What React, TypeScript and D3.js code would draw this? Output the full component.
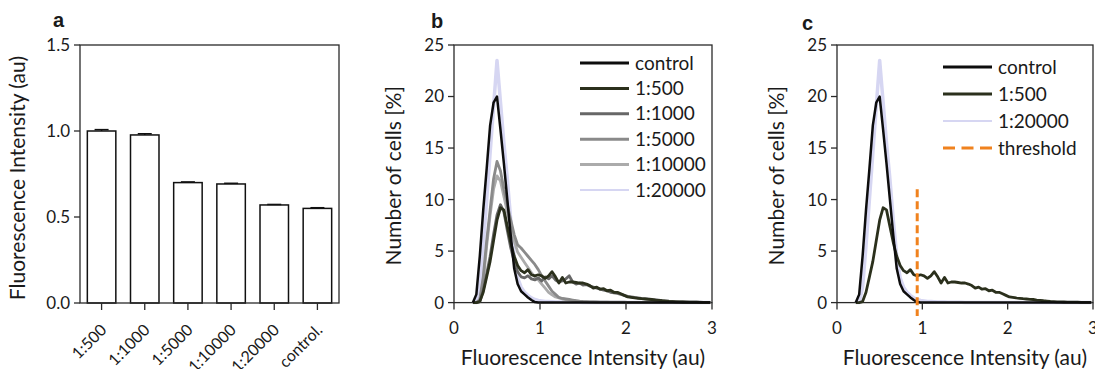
import React from "react";
import * as d3 from "d3";

const FONT = "Lato, 'Open Sans', sans-serif";
const TITLE_FONT = "'Liberation Sans', Arial, sans-serif";

// ---------- Panel a data ----------
const barCategories = ["1:500", "1:1000", "1:5000", "1:10000", "1:20000", "control."];
const barValues = [1.0, 0.977, 0.7, 0.692, 0.57, 0.55];
const barErrors = [0.008, 0.007, 0.004, 0.004, 0.003, 0.004];
const barYTicks = [0, 0.5, 1.0, 1.5];
const barYTickLabels = ["0.0", "0.5", "1.0", "1.5"];

// ---------- Histogram data (panels b, c) ----------
const binsX = [
  0.22, 0.26, 0.30, 0.34, 0.38, 0.42, 0.46, 0.50, 0.54, 0.58,
  0.62, 0.66, 0.70, 0.74, 0.78, 0.82, 0.86, 0.90, 0.94, 0.98,
  1.02, 1.06, 1.10, 1.14, 1.18, 1.22, 1.26, 1.30, 1.34, 1.38,
  1.42, 1.46, 1.50, 1.54, 1.58, 1.62, 1.66, 1.70, 1.74, 1.78,
  1.82, 1.86, 1.90, 1.94, 1.98, 2.02, 2.06, 2.10, 2.14, 2.18,
  2.22, 2.26, 2.30, 2.34, 2.38, 2.42, 2.46, 2.50, 2.54, 2.58,
  2.62, 2.66, 2.70, 2.74, 2.78, 2.82, 2.86, 2.90, 2.94, 2.98,
];
const histControl = [
  0, 0.8, 4.5, 9, 13, 17.2, 19.4, 20, 16.8, 13.5,
  10, 6.5, 3.3, 1.8, 1.1, 0.8, 0.5, 0.25, 0.05, 0,
  0, 0, 0, 0, 0, 0, 0, 0, 0, 0,
  0, 0, 0, 0, 0, 0, 0, 0, 0, 0,
  0, 0, 0, 0, 0, 0, 0, 0, 0, 0,
  0, 0, 0, 0, 0, 0, 0, 0, 0, 0,
  0, 0, 0, 0, 0, 0, 0, 0, 0, 0,
];
const hist500 = [
  0, 0, 0.1, 1, 2.5, 4.0, 6.0, 8.0, 9.2, 9.0,
  7.4, 5.8, 4.5, 3.6, 3.1, 2.9, 3.2, 2.7, 2.6, 2.7,
  2.6, 2.35, 2.6, 3.0, 2.5, 1.9, 2.45, 1.9, 2.0, 2.0,
  1.95, 1.9, 1.9, 1.8, 1.65, 1.4, 1.5, 1.3, 1.35, 1.15,
  1.2, 1.0, 1.0, 0.85, 0.7, 0.55, 0.5, 0.45, 0.42, 0.38,
  0.35, 0.32, 0.3, 0.25, 0.22, 0.18, 0.15, 0.12, 0.1, 0.08,
  0.07, 0.06, 0.05, 0.05, 0.04, 0.04, 0.03, 0.03, 0.03, 0.03,
];
const hist1000 = [
  0, 0, 0.1, 1.2, 2.8, 4.5, 6.6, 8.5, 9.5, 8.8,
  7.0, 5.3, 4.0, 3.0, 2.5, 2.4, 2.6, 2.3, 2.2, 2.4,
  2.1, 2.5, 2.3, 2.6, 2.2, 2.0, 2.1, 2.3, 2.6, 2.0,
  1.8, 1.9, 1.7, 1.75, 1.6, 1.5, 1.4, 1.3, 1.2, 1.15,
  1.0, 0.95, 0.9, 0.8, 0.7, 0.6, 0.55, 0.5, 0.45, 0.4,
  0.38, 0.35, 0.3, 0.28, 0.25, 0.2, 0.17, 0.14, 0.12, 0.1,
  0.08, 0.07, 0.06, 0.05, 0.05, 0.04, 0.04, 0.03, 0.03, 0.03,
];
const hist5000 = [
  0, 0, 0.3, 2.5, 6, 9, 12, 13.7, 12.8, 11,
  9.5, 8, 6.6, 5.6, 5.3, 4.9, 4.5, 4.1, 3.7, 3.2,
  2.6, 2.1, 1.6, 1.1, 0.8, 0.5, 0.4, 0.35, 0.3, 0.25,
  0.2, 0.15, 0.12, 0.1, 0.08, 0.07, 0.06, 0.05, 0.05, 0.05,
  0.04, 0.04, 0.04, 0.04, 0.04, 0.03, 0.03, 0.03, 0.03, 0.03,
  0.02, 0.02, 0.02, 0.02, 0.02, 0.02, 0.02, 0.02, 0.02, 0.02,
  0.02, 0.02, 0.02, 0.02, 0.02, 0.02, 0.02, 0.02, 0.02, 0.02,
];
const hist10000 = [
  0, 0, 0.2, 2, 5.5, 8.5, 11, 12.3, 11.8, 10.3,
  8.8, 7.3, 6.0, 4.9, 4.4, 3.9, 3.4, 2.9, 2.5, 2.2,
  1.8, 1.4, 1.0, 0.75, 0.55, 0.45, 0.35, 0.3, 0.25, 0.2,
  0.15, 0.12, 0.1, 0.08, 0.07, 0.06, 0.05, 0.05, 0.04, 0.04,
  0.03, 0.03, 0.03, 0.03, 0.03, 0.03, 0.03, 0.03, 0.03, 0.03,
  0.02, 0.02, 0.02, 0.02, 0.02, 0.02, 0.02, 0.02, 0.02, 0.02,
  0.02, 0.02, 0.02, 0.02, 0.02, 0.02, 0.02, 0.02, 0.02, 0.02,
];
const hist20000 = [
  0, 0, 1.5, 5.5, 10, 14.5, 19, 23.5, 19.5, 15.5,
  12, 8, 4.5, 2.4, 1.5, 1.0, 0.7, 0.45, 0.3, 0.2,
  0.15, 0.1, 0.1, 0.08, 0.06, 0.05, 0.05, 0.04, 0.04, 0.03,
  0.03, 0.03, 0.02, 0.02, 0.02, 0.02, 0.02, 0.02, 0.02, 0.02,
  0, 0, 0, 0, 0, 0, 0, 0, 0, 0,
  0, 0, 0, 0, 0, 0, 0, 0, 0, 0,
  0, 0, 0, 0, 0, 0, 0, 0, 0, 0,
];
const histXTicks = [0, 1, 2, 3];
const histYTicks = [0, 5, 10, 15, 20, 25];
const seriesNamesB = ["control", "1:500", "1:1000", "1:5000", "1:10000", "1:20000"];
const seriesNamesC = ["control", "1:500", "1:20000"];
const thresholdValue = 0.94;
const thresholdSpan = [-1.3, 11];

const seriesData: Record<string, number[]> = {
  control: histControl,
  "1:500": hist500,
  "1:1000": hist1000,
  "1:5000": hist5000,
  "1:10000": hist10000,
  "1:20000": hist20000,
};

// ---------- styles ----------
const seriesColor: Record<string, string> = {
  control: "#0d0d0d",
  "1:500": "#2b301c",
  "1:1000": "#676767",
  "1:5000": "#8a8a8a",
  "1:10000": "#ababab",
  "1:20000": "#d6d6f2",
};
const seriesWidth: Record<string, number> = {
  control: 2.5,
  "1:500": 2.8,
  "1:1000": 2.8,
  "1:5000": 2.8,
  "1:10000": 2.8,
  "1:20000": 3.5,
};
const legendWidth: Record<string, number> = {
  control: 3,
  "1:500": 3,
  "1:1000": 3,
  "1:5000": 3,
  "1:10000": 3,
  "1:20000": 2,
};
const AXIS = "#2a2a2a";
const TEXT = "#1a1a1a";
const ORANGE = "#f0821e";

function BarPanel() {
  const left = 80, right = 339, top = 45, bottom = 303;
  const x = d3.scaleBand<string>().domain(barCategories).range([left, right]).paddingInner(0.34).paddingOuter(0.17);
  const y = d3.scaleLinear().domain([0, 1.5]).range([bottom, top]);
  return (
    <g>
      <text x={53} y={27} fontFamily={TITLE_FONT} fontWeight="bold" fontSize={20} fill={TEXT}>a</text>
      {barCategories.map((c, i) => {
        const bx = x(c)!;
        const bw = x.bandwidth();
        const cx = bx + bw / 2;
        return (
          <g key={c}>
            <rect x={bx} y={y(barValues[i])} width={bw} height={bottom - y(barValues[i])} fill="#fff" stroke="#111" strokeWidth={1.5} />
            <line x1={cx} x2={cx} y1={y(barValues[i])} y2={y(barValues[i] + barErrors[i])} stroke="#111" strokeWidth={1.5} />
            <line x1={cx - 7} x2={cx + 7} y1={y(barValues[i] + barErrors[i])} y2={y(barValues[i] + barErrors[i])} stroke="#111" strokeWidth={1.5} />
          </g>
        );
      })}
      <rect x={left} y={top} width={right - left} height={bottom - top} fill="none" stroke={AXIS} strokeWidth={1.3} />
      {barYTicks.map((t, i) => (
        <g key={t}>
          <line x1={left - 6} x2={left} y1={y(t)} y2={y(t)} stroke={AXIS} strokeWidth={1.3} />
          <text x={left - 10} y={y(t)} dy="0.35em" textAnchor="end" fontFamily={FONT} fontSize={17} fill={TEXT}>{barYTickLabels[i]}</text>
        </g>
      ))}
      {barCategories.map((c) => {
        const cx = x(c)! + x.bandwidth() / 2;
        return (
          <g key={"t" + c}>
            <line x1={cx} x2={cx} y1={bottom} y2={bottom + 7} stroke={AXIS} strokeWidth={1.3} />
            <text transform={`translate(${cx + 6},${bottom + 28}) rotate(-45)`} textAnchor="end" fontFamily={FONT} fontSize={16} fill={TEXT}>{c}</text>
          </g>
        );
      })}
      <text transform={`translate(25,${(top + bottom) / 2 + 4}) rotate(-90)`} textAnchor="middle" fontFamily={FONT} fontSize={21} fill={TEXT}>Fluorescence Intensity (au)</text>
    </g>
  );
}

type HistProps = {
  left: number;
  right: number;
  title: string;
  titleX: number;
  titleY: number;
  names: string[];
  legendNames: string[];
  legendX: number;
  legendY: number;
  legendStep: number;
  threshold?: boolean;
};

function HistPanel(p: HistProps) {
  const top = 45, bottom = 302.6;
  const x = d3.scaleLinear().domain([0, 3]).range([p.left, p.right]);
  const y = d3.scaleLinear().domain([0, 25]).range([bottom, top]);
  const line = d3.line<number>().x((_, i) => x(binsX[i])).y((d) => y(d)).curve(d3.curveLinear);
  const drawOrder = [...p.names].reverse();
  const legendItems = p.threshold ? [...p.legendNames, "threshold"] : p.legendNames;
  return (
    <g>
      <text x={p.titleX} y={p.titleY} fontFamily={TITLE_FONT} fontWeight="bold" fontSize={20} fill={TEXT}>{p.title}</text>
      <rect x={p.left} y={top} width={p.right - p.left} height={bottom - top} fill="none" stroke={AXIS} strokeWidth={1.3} />
      {drawOrder.map((n) => (
        <path key={n} d={line(seriesData[n]) || ""} fill="none" stroke={seriesColor[n]} strokeWidth={seriesWidth[n]} strokeLinejoin="round" />
      ))}
      {p.threshold && (
        <line x1={x(thresholdValue)} x2={x(thresholdValue)} y1={y(thresholdSpan[1])} y2={y(thresholdSpan[0])} stroke={ORANGE} strokeWidth={3} strokeDasharray="8,4" />
      )}
      {histYTicks.map((t) => (
        <g key={t}>
          <line x1={p.left - 6} x2={p.left} y1={y(t)} y2={y(t)} stroke={AXIS} strokeWidth={1.3} />
          <text x={p.left - 10} y={y(t)} dy="0.35em" textAnchor="end" fontFamily={FONT} fontSize={17} fill={TEXT}>{t}</text>
        </g>
      ))}
      {histXTicks.map((t) => (
        <g key={t}>
          <line x1={x(t)} x2={x(t)} y1={bottom} y2={bottom + 7} stroke={AXIS} strokeWidth={1.3} />
          <text x={x(t)} y={bottom + 31} textAnchor="middle" fontFamily={FONT} fontSize={17} fill={TEXT}>{t}</text>
        </g>
      ))}
      <text x={(p.left + p.right) / 2} y={bottom + 62} textAnchor="middle" fontFamily={FONT} fontSize={21} fill={TEXT}>Fluorescence Intensity (au)</text>
      <text transform={`translate(${p.left - 53},${(top + bottom) / 2 + 2}) rotate(-90)`} textAnchor="middle" fontFamily={FONT} fontSize={21} fill={TEXT}>Number of cells [%]</text>
      {legendItems.map((n, i) => {
        const ly = p.legendY + i * p.legendStep;
        const isT = n === "threshold";
        return (
          <g key={"l" + n}>
            <line x1={p.legendX} x2={p.legendX + 49} y1={ly} y2={ly}
              stroke={isT ? ORANGE : seriesColor[n]} strokeWidth={isT ? 3 : legendWidth[n]}
              strokeDasharray={isT ? "12,6.5" : undefined} />
            <text x={p.legendX + 55} y={ly} dy="0.35em" fontFamily={FONT} fontSize={19} fill={TEXT}>{n}</text>
          </g>
        );
      })}
    </g>
  );
}

export default function App() {
  return (
    <svg width={1095} height={369} style={{ position: "absolute", left: 0, top: 0, background: "#fff" }}>
      <rect x={0} y={0} width={1095} height={369} fill="#fff" />
      <BarPanel />
      <HistPanel left={454} right={712} title="b" titleX={431} titleY={28}
        names={seriesNamesB} legendNames={seriesNamesB} legendX={580} legendY={63} legendStep={25.4} />
      <HistPanel left={837} right={1093} title="c" titleX={802} titleY={30}
        names={seriesNamesC} legendNames={seriesNamesC} legendX={943} legendY={67} legendStep={27} threshold />
    </svg>
  );
}
